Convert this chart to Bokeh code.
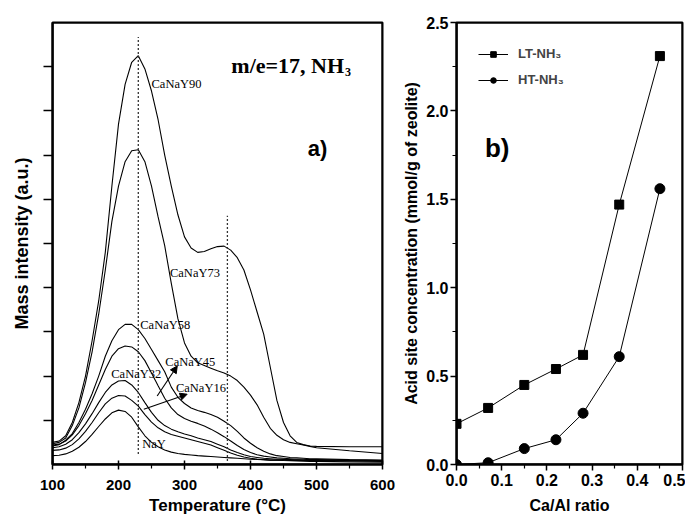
from bokeh.plotting import figure
from bokeh.layouts import row, column
from bokeh.models import (FixedTicker, Arrow, NormalHead, Legend, LegendItem,
                          Range1d, Label, Spacer, BoxAnnotation)
from bokeh.embed import file_html
from bokeh.resources import INLINE
from bokeh.core.properties import value

# ---------------- panel a) data: NH3 TPD traces (m/e = 17) ----------------
temperature = [100, 110, 120, 130, 140, 150, 160, 170, 180, 190, 200, 210, 220, 230,
               240, 250, 260, 270, 280, 290, 300, 310, 320, 330, 340, 350, 360, 370,
               380, 390, 400, 410, 420, 430, 440, 450, 460, 470, 480, 490, 500, 550, 600]

canay90 = [0.50, 0.53, 0.65, 0.95, 1.40, 2.00, 2.80, 3.70, 4.80, 6.30, 7.70, 8.60, 9.10, 9.25,
           8.95, 8.45, 7.80, 7.00, 6.30, 5.65, 5.15, 4.90, 4.80, 4.82, 4.88, 4.93, 4.94, 4.85,
           4.68, 4.40, 3.95, 3.45, 2.95, 2.20, 1.45, 0.95, 0.65, 0.50, 0.45, 0.42, 0.41, 0.40, 0.40]
canay73 = [0.47, 0.50, 0.60, 0.88, 1.28, 1.85, 2.55, 3.40, 4.40, 5.50, 6.30, 6.85, 7.10, 7.12,
           6.85, 6.30, 5.60, 4.95, 4.10, 3.30, 2.75, 2.45, 2.30, 2.24, 2.18, 2.12, 2.07, 2.00,
           1.90, 1.75, 1.57, 1.35, 1.07, 0.82, 0.66, 0.56, 0.50, 0.47, 0.44, 0.41, 0.38, 0.31, 0.25]
canay58 = [0.42, 0.45, 0.55, 0.70, 0.95, 1.25, 1.60, 2.00, 2.45, 2.80, 3.05, 3.17, 3.17, 3.05,
           2.85, 2.60, 2.35, 2.10, 1.75, 1.52, 1.38, 1.28, 1.22, 1.18, 1.13, 1.07, 0.98, 0.88,
           0.75, 0.60, 0.48, 0.38, 0.30, 0.24, 0.20, 0.18, 0.16, 0.15, 0.14, 0.13, 0.13, 0.11, 0.10]
canay45 = [0.44, 0.46, 0.53, 0.67, 0.88, 1.15, 1.45, 1.80, 2.15, 2.45, 2.62, 2.68, 2.66, 2.55,
           2.35, 2.07, 1.78, 1.50, 1.28, 1.13, 1.04, 0.98, 0.93, 0.87, 0.80, 0.72, 0.63, 0.53,
           0.43, 0.34, 0.27, 0.22, 0.19, 0.17, 0.15, 0.14, 0.13, 0.12, 0.12, 0.11, 0.11, 0.10, 0.09]
canay32 = [0.38, 0.40, 0.46, 0.56, 0.72, 0.92, 1.15, 1.40, 1.63, 1.80, 1.89, 1.90, 1.80, 1.63,
           1.40, 1.18, 1.00, 0.88, 0.80, 0.74, 0.69, 0.65, 0.60, 0.56, 0.52, 0.46, 0.40, 0.33,
           0.27, 0.22, 0.18, 0.16, 0.14, 0.13, 0.12, 0.115, 0.11, 0.105, 0.10, 0.10, 0.10, 0.09, 0.08]
canay16 = [0.32, 0.33, 0.37, 0.45, 0.58, 0.75, 0.95, 1.17, 1.37, 1.50, 1.56, 1.55, 1.45, 1.32,
           1.13, 0.96, 0.83, 0.74, 0.68, 0.64, 0.60, 0.56, 0.52, 0.48, 0.44, 0.38, 0.32, 0.26,
           0.21, 0.17, 0.14, 0.12, 0.11, 0.10, 0.10, 0.095, 0.09, 0.09, 0.09, 0.09, 0.09, 0.08, 0.07]
nay = [0.20, 0.21, 0.24, 0.30, 0.39, 0.52, 0.68, 0.86, 1.03, 1.17, 1.23, 1.20, 1.07, 0.85,
       0.65, 0.50, 0.40, 0.33, 0.28, 0.25, 0.23, 0.215, 0.20, 0.19, 0.18, 0.17, 0.16, 0.15,
       0.14, 0.13, 0.12, 0.115, 0.11, 0.10, 0.10, 0.09, 0.085, 0.08, 0.075, 0.07, 0.07, 0.06, 0.05]

curve_values = [canay90, canay73, canay58, canay45, canay32, canay16, nay]

curve_labels = ["CaNaY90", "CaNaY73", "CaNaY58", "CaNaY45", "CaNaY32", "CaNaY16", "NaY"]
label_T = [250, 278, 233, 271, 189, 287, 236]
label_v = [8.61, 4.34, 3.16, 2.33, 2.04, 1.73, 0.46]

# arrows pointing from curves to labels (CaNaY45, CaNaY16)
arrow_T0 = [258.6, 238.3]
arrow_v0 = [1.55, 1.25]
arrow_T1 = [289.0, 304.0]
arrow_v1 = [2.23, 1.59]

# dotted peak-position markers
peak_T = [230, 365]
peak_bottom = [0.24, 0.08]
peak_top = [9.67, 5.63]

x_ticks_a = [100, 200, 300, 400, 500, 600]
x_minor_a = [150, 250, 350, 450, 550]
y_ticks_a = [1, 2, 3, 4, 5, 6, 7, 8, 9]

# ---------------- panel b) data: acid site concentration ----------------
ca_al = [0.0, 0.07, 0.15, 0.22, 0.28, 0.36, 0.45]
lt_nh3 = [0.23, 0.32, 0.45, 0.54, 0.62, 1.47, 2.31]
ht_nh3 = [0.0, 0.01, 0.09, 0.14, 0.29, 0.61, 1.56]

x_ticks_b = [0.0, 0.1, 0.2, 0.3, 0.4, 0.5]
x_minor_b = [0.05, 0.15, 0.25, 0.35, 0.45]
y_ticks_b = [0.0, 0.5, 1.0, 1.5, 2.0, 2.5]
y_minor_b = [0.25, 0.75, 1.25, 1.75, 2.25]

SANS = "Liberation Sans"
SERIF = "Liberation Serif"
H = 511


def style_axes(p, tick_size):
    p.xgrid.visible = False
    p.ygrid.visible = False
    p.outline_line_color = "black"
    p.outline_line_width = 2
    p.border_fill_color = None
    p.background_fill_color = None
    for ax in (p.xaxis, p.yaxis):
        ax.axis_line_width = 2
        ax.axis_line_color = "black"
        ax.major_tick_line_color = "black"
        ax.minor_tick_line_color = "black"
        ax.major_tick_line_width = 1.5
        ax.minor_tick_line_width = 1.2
        ax.major_label_text_font = SANS
        ax.major_label_text_font_style = "bold"
        ax.major_label_text_font_size = tick_size
        ax.major_label_text_color = "black"
        ax.axis_label_text_font = SANS
        ax.axis_label_text_font_style = "bold"
        ax.axis_label_text_color = "black"
    # explicit frame box (spans the whole plotting area, no data coordinates)
    p.add_layout(BoxAnnotation(fill_alpha=0, line_color="black", line_width=2,
                               line_alpha=1.0, level="overlay"))


# ---------------- panel a ----------------
p1 = figure(width=392, height=H, x_range=Range1d(100, 600), y_range=Range1d(0, 10),
            output_backend="svg", toolbar_location=None,
            min_border_left=44, min_border_right=18, min_border_top=14, min_border_bottom=55)
style_axes(p1, "15px")
p1.xaxis.ticker = FixedTicker(ticks=x_ticks_a, minor_ticks=x_minor_a)
p1.yaxis.ticker = FixedTicker(ticks=y_ticks_a)
p1.yaxis.major_label_overrides = {t: "" for t in y_ticks_a}
p1.yaxis.major_tick_out = 9
p1.yaxis.major_tick_in = 0
p1.xaxis.major_tick_out = 5
p1.xaxis.major_tick_in = 4
p1.xaxis.minor_tick_out = 4
p1.xaxis.minor_tick_in = 0
p1.xaxis.major_label_standoff = 10
p1.xaxis.axis_label = "Temperature (°C)"
p1.xaxis.axis_label_text_font_size = "17px"
p1.xaxis.axis_label_standoff = 3
p1.yaxis.axis_label = "Mass intensity (a.u.)"
p1.yaxis.axis_label_text_font_size = "18px"
p1.yaxis.axis_label_standoff = 12

for vals in curve_values:
    p1.line(temperature, vals, line_color="black", line_width=1.1)

p1.segment(x0=peak_T, y0=peak_bottom, x1=peak_T, y1=peak_top,
           line_color="#333333", line_width=1.3, line_dash="2 2")

p1.text(x=label_T, y=label_v, text=curve_labels, text_font=value(SERIF),
        text_font_size="12.5px", text_color="black", text_baseline="alphabetic")

for xs, ys, xe, ye in zip(arrow_T0, arrow_v0, arrow_T1, arrow_v1):
    p1.add_layout(Arrow(x_start=xs, y_start=ys, x_end=xe, y_end=ye,
                        line_color="black", line_width=1.1,
                        end=NormalHead(size=7, fill_color="black", line_color="black")))

p1.add_layout(Label(x=371, y=9.03, text="m/e=17, NH", text_font=SERIF,
                    text_font_style="bold", text_font_size="22px",
                    text_baseline="alphabetic", text_color="black"))
p1.add_layout(Label(x=543, y=8.87, text="3", text_font=SERIF,
                    text_font_style="bold", text_font_size="12px",
                    text_baseline="alphabetic", text_color="black"))
p1.add_layout(Label(x=486.8, y=7.15, text="a)", text_font=SANS,
                    text_font_style="bold", text_font_size="22px",
                    text_baseline="alphabetic", text_color="black"))

# ---------------- panel b ----------------
p2 = figure(width=285, height=H, x_range=Range1d(0, 0.5), y_range=Range1d(0, 2.5),
            output_backend="svg", toolbar_location=None,
            min_border_left=53, min_border_right=3, min_border_top=14, min_border_bottom=55)
style_axes(p2, "16px")
p2.xaxis.ticker = FixedTicker(ticks=x_ticks_b, minor_ticks=x_minor_b)
p2.yaxis.ticker = FixedTicker(ticks=y_ticks_b, minor_ticks=y_minor_b)
p2.xaxis.major_label_overrides = {t: f"{t:.1f}" for t in x_ticks_b}
p2.yaxis.major_label_overrides = {t: f"{t:.1f}" for t in y_ticks_b}
for ax in (p2.xaxis, p2.yaxis):
    ax.major_tick_out = 6
    ax.major_tick_in = 0
    ax.minor_tick_out = 4
    ax.minor_tick_in = 0
p2.yaxis.major_label_standoff = 2
p2.xaxis.major_label_standoff = 3
p2.xaxis.axis_label = "Ca/Al ratio"
p2.xaxis.axis_label_text_font_size = "16px"
p2.xaxis.axis_label_standoff = 8
p2.yaxis.axis_label = "Acid site concentration (mmol/g of zeolite)"
p2.yaxis.axis_label_text_font_size = "16px"
p2.yaxis.axis_label_standoff = 3

lt_line = p2.line(ca_al, lt_nh3, line_color="black", line_width=1)
lt_pts = p2.scatter(ca_al, lt_nh3, marker="square", size=9, fill_color="black",
                    line_color="black")
ht_line = p2.line(ca_al, ht_nh3, line_color="black", line_width=1)
ht_pts = p2.scatter(ca_al, ht_nh3, marker="circle", size=10, fill_color="black",
                    line_color="black")

legend = Legend(items=[LegendItem(label="LT-NH₃", renderers=[lt_line, lt_pts]),
                       LegendItem(label="HT-NH₃", renderers=[ht_line, ht_pts])],
                location=(22, 377), margin=0, padding=0, spacing=11,
                glyph_width=30, glyph_height=14, label_height=14, label_standoff=10,
                label_text_font=SANS, label_text_font_style="bold",
                label_text_font_size="13px", border_line_alpha=0,
                background_fill_alpha=0)
p2.add_layout(legend)

p2.add_layout(Label(x=0.063, y=1.79, text="b)", text_font=SANS,
                    text_font_style="bold", text_font_size="26px",
                    text_baseline="alphabetic", text_color="black"))

# 8px offset so the plot frames sit where they do in the reference
layout = column(Spacer(height=8),
                row(Spacer(width=8), p1, p2))
open("out.html", "w").write(file_html(layout, INLINE))
